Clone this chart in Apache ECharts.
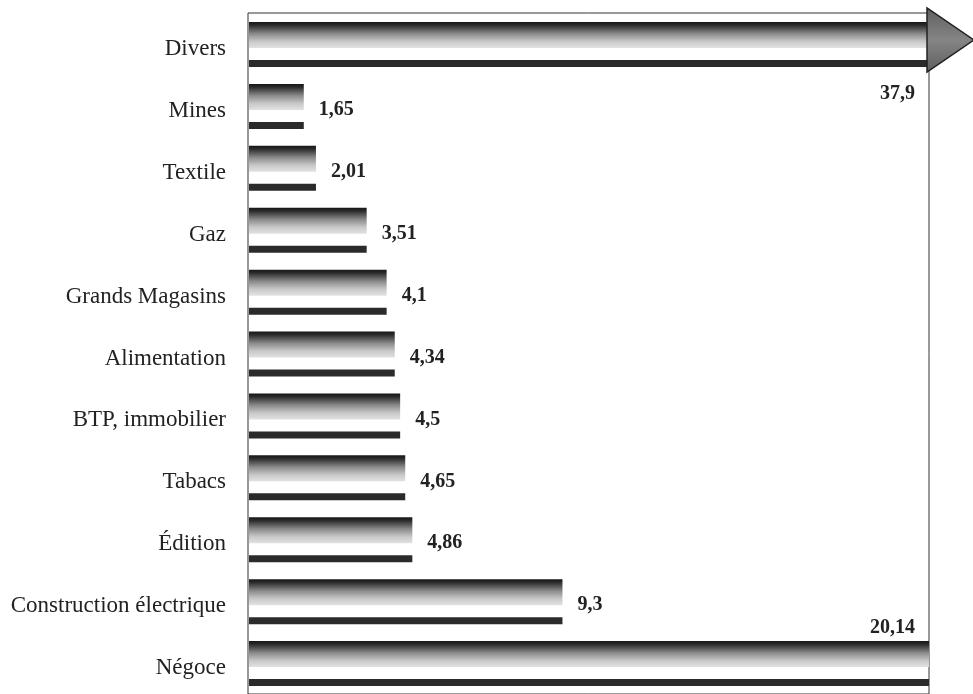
<!DOCTYPE html>
<html><head><meta charset="utf-8">
<script src="https://cdn.jsdelivr.net/npm/echarts@6/dist/echarts.min.js"></script>
<style>html,body{margin:0;padding:0;background:#fff}#c{width:973px;height:694px}</style>
</head><body><div id="c"></div>
<script>
const categories = ['Divers','Mines','Textile','Gaz','Grands Magasins','Alimentation','BTP, immobilier','Tabacs','Édition','Construction électrique','Négoce'];
const values = [37.9,1.65,2.01,3.51,4.1,4.34,4.5,4.65,4.86,9.3,20.14];
const valueLabels = ['37,9','1,65','2,01','3,51','4,1','4,34','4,5','4,65','4,86','9,3','20,14'];
const axisMax = 20.14;

const chart = echarts.init(document.getElementById('c'), null, {renderer:'canvas'});
const SERIF = '"Liberation Serif", "DejaVu Serif", serif';

function barGradient(){
  return new echarts.graphic.LinearGradient(0,0,0,1,[
    {offset:0,color:'#161616'},
    {offset:0.12,color:'#2a2a2a'},
    {offset:0.45,color:'#8a8a8a'},
    {offset:0.75,color:'#c8c8c8'},
    {offset:1,color:'#e2e2e2'}
  ]);
}

chart.setOption({
  animation:false,
  backgroundColor:'#fff',
  grid:{left:248, right:44, top:13, bottom:-2, show:true, borderColor:'#333', borderWidth:1, containLabel:false},
  xAxis:{type:'value', min:0, max:axisMax, show:false},
  yAxis:{type:'category', data:categories, inverse:true,
    axisLine:{show:false}, axisTick:{show:false}, splitLine:{show:false},
    axisLabel:{color:'#222', fontSize:23, fontFamily:SERIF, margin:22,
      formatter:function(v){return '{a|' + v + '}';},
      rich:{a:{color:'#222', fontSize:23, fontFamily:SERIF, padding:[10,0,0,0]}}}},
  series:[{
    type:'custom',
    encode:{x:1, y:0},
    data: values.map((v,i)=>[i,v]),
    renderItem:function(params, api){
      const idx = api.value(0);
      const v = api.value(1);
      const shown = Math.min(v, axisMax);
      const p0 = api.coord([0, idx]);
      const p1 = api.coord([shown, idx]);
      const band = api.size([0,1])[1];
      const top = p0[1] - band/2;
      const x0 = p0[0] + 1;
      const w = p1[0] - x0;
      const ch = [
        {type:'rect', shape:{x:x0, y:top+9, width:w, height:26}, style:{fill:barGradient()}},
        {type:'rect', shape:{x:x0, y:top+47, width:w, height:7}, style:{fill:'#2b2b2b'}}
      ];
      const txt = valueLabels[params.dataIndex];
      const font = 'bold 20px ' + SERIF;
      if (v > axisMax) {
        ch.push({type:'polygon', z2:10, shape:{points:[[p1[0]-2, top-5],[p1[0]-2, top+59],[p1[0]+45, top+27]]},
          style:{fill:new echarts.graphic.LinearGradient(0,0,0,1,[{offset:0,color:'#5e5e5e'},{offset:0.5,color:'#858585'},{offset:1,color:'#5e5e5e'}]), stroke:'#222', lineWidth:1.5}});
        ch.push({type:'text', style:{text:txt, x:p1[0]-14, y:top+81, font:font, fill:'#222', align:'right', verticalAlign:'middle'}});
      } else if (v >= axisMax) {
        ch.push({type:'text', style:{text:txt, x:p1[0]-14, y:top-4, font:font, fill:'#222', align:'right', verticalAlign:'middle'}});
      } else {
        ch.push({type:'text', style:{text:txt, x:p1[0]+15, y:top+35, font:font, fill:'#222', align:'left', verticalAlign:'middle'}});
      }
      return {type:'group', children:ch};
    }
  }]
});
</script></body></html>
